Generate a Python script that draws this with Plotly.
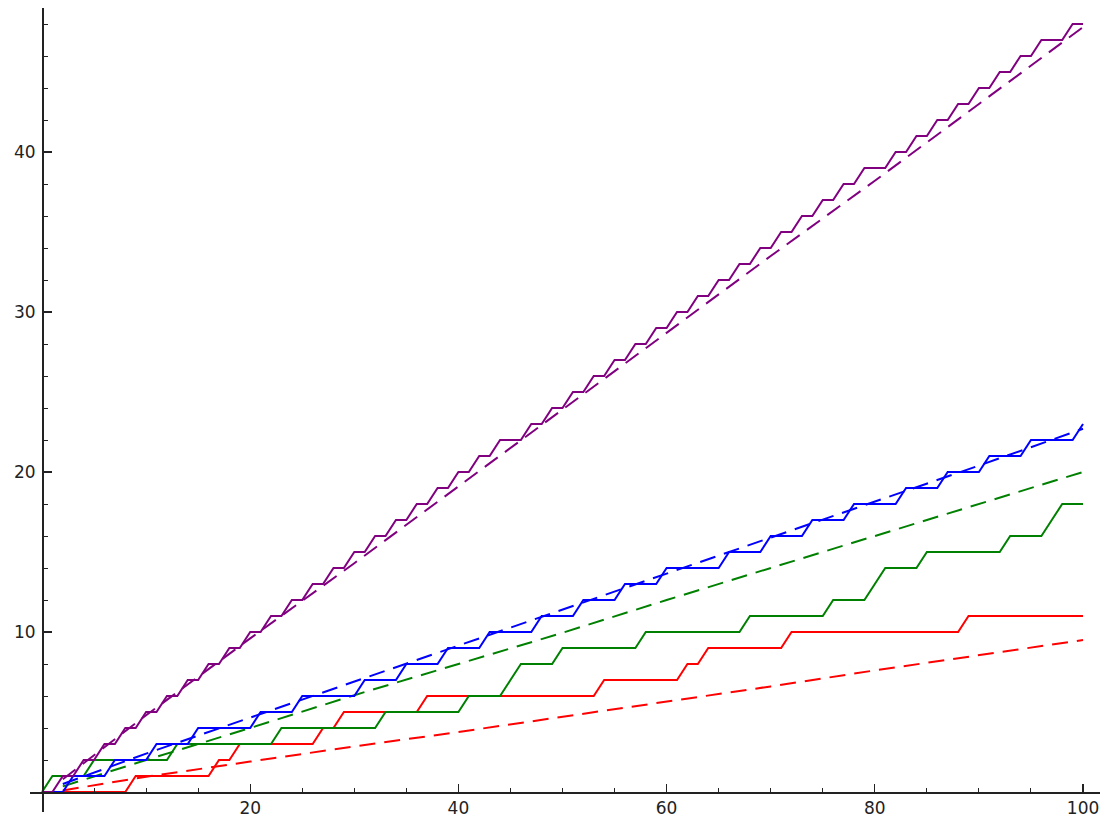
import plotly.graph_objects as go

# ---- data ----
x_steps = list(range(101))

red_steps = [0, 0, 0, 0, 0, 0, 0, 0, 0, 1,
             1, 1, 1, 1, 1, 1, 1, 2, 2, 3,
             3, 3, 3, 3, 3, 3, 3, 4, 4, 5,
             5, 5, 5, 5, 5, 5, 5, 6, 6, 6,
             6, 6, 6, 6, 6, 6, 6, 6, 6, 6,
             6, 6, 6, 6, 7, 7, 7, 7, 7, 7,
             7, 7, 8, 8, 9, 9, 9, 9, 9, 9,
             9, 9, 10, 10, 10, 10, 10, 10, 10, 10,
             10, 10, 10, 10, 10, 10, 10, 10, 10, 11,
             11, 11, 11, 11, 11, 11, 11, 11, 11, 11,
             11]

green_steps = [0, 1, 1, 1, 1, 2, 2, 2, 2, 2,
               2, 2, 2, 3, 3, 3, 3, 3, 3, 3,
               3, 3, 3, 4, 4, 4, 4, 4, 4, 4,
               4, 4, 4, 5, 5, 5, 5, 5, 5, 5,
               5, 6, 6, 6, 6, 7, 8, 8, 8, 8,
               9, 9, 9, 9, 9, 9, 9, 9, 10, 10,
               10, 10, 10, 10, 10, 10, 10, 10, 11, 11,
               11, 11, 11, 11, 11, 11, 12, 12, 12, 12,
               13, 14, 14, 14, 14, 15, 15, 15, 15, 15,
               15, 15, 15, 16, 16, 16, 16, 17, 18, 18,
               18]

blue_steps = [0, 0, 0, 1, 1, 1, 1, 2, 2, 2,
              2, 3, 3, 3, 3, 4, 4, 4, 4, 4,
              4, 5, 5, 5, 5, 6, 6, 6, 6, 6,
              6, 7, 7, 7, 7, 8, 8, 8, 8, 9,
              9, 9, 9, 10, 10, 10, 10, 10, 11, 11,
              11, 11, 12, 12, 12, 12, 13, 13, 13, 13,
              14, 14, 14, 14, 14, 14, 15, 15, 15, 15,
              16, 16, 16, 16, 17, 17, 17, 17, 18, 18,
              18, 18, 18, 19, 19, 19, 19, 20, 20, 20,
              20, 21, 21, 21, 21, 22, 22, 22, 22, 22,
              23]

purple_steps = [0, 0, 1, 1, 2, 2, 3, 3, 4, 4,
                5, 5, 6, 6, 7, 7, 8, 8, 9, 9,
                10, 10, 11, 11, 12, 12, 13, 13, 14, 14,
                15, 15, 16, 16, 17, 17, 18, 18, 19, 19,
                20, 20, 21, 21, 22, 22, 22, 23, 23, 24,
                24, 25, 25, 26, 26, 27, 27, 28, 28, 29,
                29, 30, 30, 31, 31, 32, 32, 33, 33, 34,
                34, 35, 35, 36, 36, 37, 37, 38, 38, 39,
                39, 39, 40, 40, 41, 41, 42, 42, 43, 43,
                44, 44, 45, 45, 46, 46, 47, 47, 47, 48,
                48]

x_dash = [2, 10, 20, 30, 40, 50, 60, 70, 80, 90, 100]
red_dash = [0.1, 0.95, 1.9, 2.85, 3.75, 4.7, 5.65, 6.6, 7.6, 8.55, 9.5]
green_dash = [0.35, 2.0, 4.0, 6.05, 8.0, 9.95, 12.0, 14.0, 16.0, 18.0, 20.0]
blue_dash = [0.5, 2.4, 4.65, 6.9, 9.15, 11.4, 13.65, 15.9, 18.15, 20.4, 22.7]
purple_dash = [0.8, 4.8, 9.6, 14.3, 19.1, 23.9, 28.7, 33.5, 38.2, 43.0, 47.8]

x_major = [20, 40, 60, 80, 100]
x_minor = [5, 10, 15, 25, 30, 35, 45, 50, 55, 65, 70, 75, 85, 90, 95]
y_major = [10, 20, 30, 40]
y_minor = [2, 4, 6, 8, 12, 14, 16, 18, 22, 24, 26, 28, 32, 34, 36, 38, 42, 44, 46, 48]

COLORS = {"red": "#ff0000", "green": "#008000", "blue": "#0000ff", "purple": "#800080"}

X_RANGE = [-1.153, 101.63]
Y_RANGE = [-1.25, 49.0]

fig = go.Figure()

series = [("red", red_steps, red_dash), ("green", green_steps, green_dash),
          ("blue", blue_steps, blue_dash), ("purple", purple_steps, purple_dash)]

for name, steps, dash in series:
    fig.add_trace(go.Scatter(x=x_steps, y=steps, mode="lines", name=name,
                             line=dict(color=COLORS[name], width=2.0),
                             hoverinfo="skip"))
    fig.add_trace(go.Scatter(x=x_dash, y=dash, mode="lines", name=name + " dashed",
                             line=dict(color=COLORS[name], width=2.0, dash="16px,9px"),
                             hoverinfo="skip"))

xpos = (0 - Y_RANGE[0]) / (Y_RANGE[1] - Y_RANGE[0])
ypos = (0 - X_RANGE[0]) / (X_RANGE[1] - X_RANGE[0])

axis_color = "#222222"
tick_font = dict(family="DejaVu Sans", size=17, color="#222222")

fig.update_layout(
    width=1107, height=822,
    margin=dict(l=30, r=7, t=8, b=10),
    paper_bgcolor="white", plot_bgcolor="white",
    showlegend=False,
    xaxis=dict(range=X_RANGE, showgrid=False, zeroline=False,
               showline=True, linecolor=axis_color, linewidth=1.5,
               anchor="free", position=xpos, automargin=False,
               ticks="inside", ticklen=8, tickwidth=1.2, tickcolor=axis_color,
               tickvals=x_major, ticktext=[str(v) for v in x_major],
               tickfont=tick_font,
               minor=dict(tickvals=x_minor, ticks="inside", ticklen=4,
                          tickwidth=1, tickcolor=axis_color)),
    yaxis=dict(range=Y_RANGE, showgrid=False, zeroline=False,
               showline=True, linecolor=axis_color, linewidth=1.5,
               anchor="free", position=ypos, automargin=False,
               ticks="inside", ticklen=8, tickwidth=1.2, tickcolor=axis_color,
               tickvals=y_major, ticktext=[str(v) for v in y_major],
               tickfont=tick_font, ticklabelstandoff=3,
               minor=dict(tickvals=y_minor, ticks="inside", ticklen=4,
                          tickwidth=1, tickcolor=axis_color)),
)

fig.write_html("out.html",
               config={"displayModeBar": False, "staticPlot": True},
               post_script="document.body.style.margin='0';document.body.style.overflow='hidden';")
